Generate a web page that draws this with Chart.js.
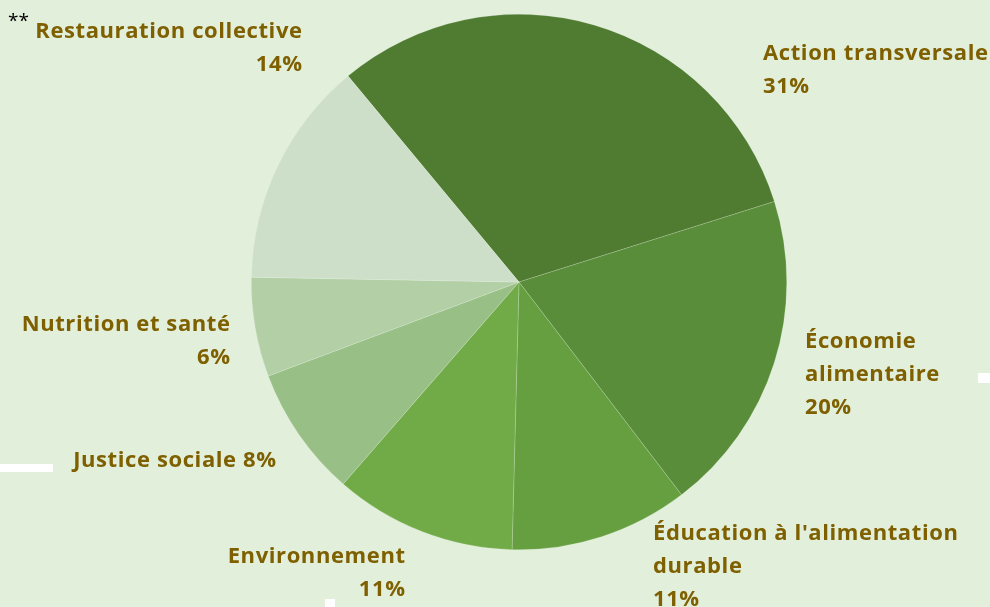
<!DOCTYPE html>
<html>
<head>
<meta charset="utf-8">
<script src="https://cdn.jsdelivr.net/npm/chart.js@4"></script>
<style>
  body { margin: 0; background: #e2efda; }
  #wrap { width: 990px; height: 607px; position: relative; }
</style>
</head>
<body>
<div id="wrap"><canvas id="pieChart" width="990" height="607"></canvas></div>
<script>
// Données
const categories = ["Action transversale", "Économie alimentaire", "Éducation à l'alimentation durable",
  "Environnement", "Justice sociale", "Nutrition et santé", "Restauration collective"];
const values = [31.2, 19.5, 10.8, 11.0, 7.9, 6.0, 13.7];
const pctLabels = ["31%", "20%", "11%", "11%", "8%", "6%", "14%"];
const colors = ["#4f7c31", "#5a8d3a", "#659f40", "#70ab48", "#98bf86", "#b3cfa6", "#cddfc8"];

// Position des étiquettes (texte par ligne, ancre x, ligne de base, alignement)
const labelLayout = [
  { lines: ["Action transversale", "31%"], x: 763, y: 60, align: "left" },
  { lines: ["Économie", "alimentaire", "20%"], x: 805, y: 348, align: "left" },
  { lines: ["Éducation à l'alimentation", "durable", "11%"], x: 653, y: 540, align: "left" },
  { lines: ["Environnement", "11%"], x: 405, y: 563, align: "right" },
  { lines: ["Justice sociale 8%"], x: 276, y: 467, align: "right" },
  { lines: ["Nutrition et santé", "6%"], x: 230, y: 331, align: "right" },
  { lines: ["Restauration collective", "14%"], x: 302, y: 38, align: "right" },
];

// Plugin pour écrire les étiquettes + petits détails du visuel d'origine
const labelPlugin = {
  id: "labelPlugin",
  afterDraw(chart) {
    const ctx = chart.ctx;
    ctx.save();
    ctx.fillStyle = "#7f6000";
    ctx.font = "bold 22px 'Open Sans'";
    ctx.letterSpacing = "0.6px";
    ctx.textBaseline = "alphabetic";
    labelLayout.forEach((lab) => {
      ctx.textAlign = lab.align;
      lab.lines.forEach((t, i) => {
        // avec letterSpacing, le dernier espacement décale le texte aligné à droite
        const dx = lab.align === "right" ? 0.6 : 0;
        ctx.fillText(t, lab.x + dx, lab.y + i * 33);
      });
    });
    // astérisques
    ctx.letterSpacing = "0px";
    ctx.fillStyle = "#000";
    ctx.font = "19px 'Open Sans'";
    ctx.textAlign = "left";
    ctx.fillText("**", 8, 27);
    // traits blancs
    ctx.fillStyle = "#ffffff";
    ctx.fillRect(0, 464, 53, 8);
    ctx.fillRect(978, 373, 12, 10);
    ctx.fillRect(325, 599, 10, 8);
    ctx.restore();
  },
};

const pie = new Chart(document.getElementById("pieChart"), {
  type: "pie",
  data: {
    labels: categories,
    datasets: [
      {
        data: values,
        backgroundColor: colors,
        borderColor: "rgba(255, 255, 255, 0.35)",
        borderWidth: 0.5,
      },
    ],
  },
  options: {
    responsive: false,
    animation: false,
    rotation: -39.7,
    layout: { padding: { top: 14, bottom: 57, left: 48, right: 0 } },
    plugins: {
      legend: { display: false },
      tooltip: { enabled: false },
    },
  },
  plugins: [labelPlugin],
});
</script>
</body>
</html>
